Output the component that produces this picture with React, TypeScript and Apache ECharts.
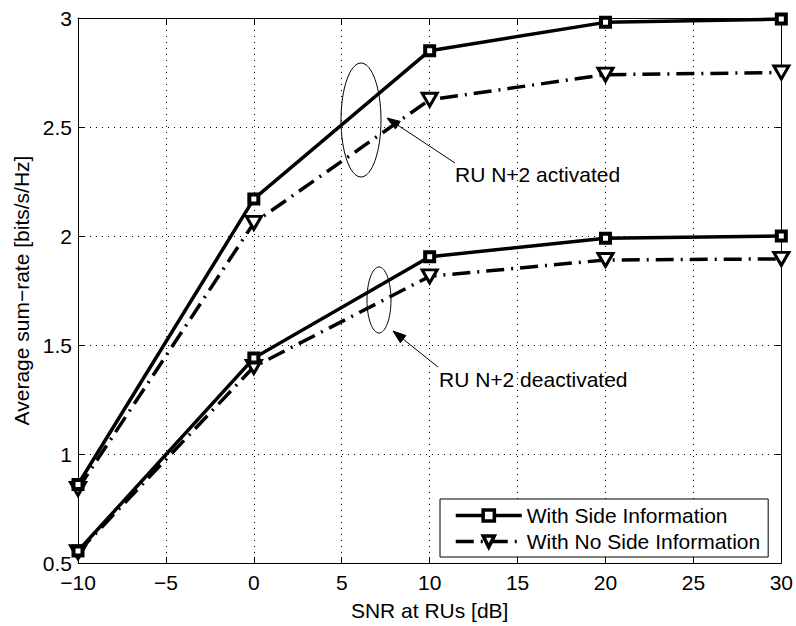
import React, { useEffect, useRef } from "react";
import * as echarts from "echarts";

const snr = [-10, 0, 10, 20, 30];
const activatedSide = [0.86, 2.17, 2.85, 2.98, 2.995];
const activatedNoSide = [0.84, 2.06, 2.625, 2.74, 2.75];
const deactivatedSide = [0.555, 1.44, 1.905, 1.99, 2.0];
const deactivatedNoSide = [0.55, 1.40, 1.815, 1.89, 1.895];
const legendNames = ["With Side Information", "With No Side Information"];
const xTitle = "SNR at RUs [dB]";
const yTitle = "Average sum\u2212rate [bits/s/Hz]";
const noteActivated = "RU N+2 activated";
const noteDeactivated = "RU N+2 deactivated";

const FONT = "'Liberation Sans', Arial, Helvetica, sans-serif";
const FS = 21;

function arrow(tail: number[], tip: number[]) {
  const dx = tip[0] - tail[0];
  const dy = tip[1] - tail[1];
  const len = Math.sqrt(dx * dx + dy * dy);
  const ux = dx / len;
  const uy = dy / len;
  const hl = 13;
  const hw = 4.5;
  const bx = tip[0] - ux * hl;
  const by = tip[1] - uy * hl;
  const px = -uy * hw;
  const py = ux * hw;
  return [
    {
      type: "line",
      shape: { x1: tail[0], y1: tail[1], x2: bx, y2: by },
      style: { stroke: "#000", lineWidth: 1 },
      silent: true,
    },
    {
      type: "polygon",
      shape: { points: [tip, [bx + px, by + py], [bx - px, by - py]] },
      style: { fill: "#000", stroke: "#000", lineWidth: 1 },
      silent: true,
    },
  ];
}

export default function App() {
  const ref = useRef<HTMLDivElement>(null);
  useEffect(() => {
    if (!ref.current) return;
    const chart = echarts.init(ref.current, null, { renderer: "svg" });
    const mk = (vals: number[]) => snr.map((x, i) => [x, vals[i]]);
    const sideStyle = {
      type: "line",
      name: legendNames[0],
      symbol: "rect",
      symbolSize: 9,
      itemStyle: { color: "#fff", borderColor: "#000", borderWidth: 4 },
      lineStyle: { color: "#000", width: 3.5, type: "solid" },
      z: 3,
    };
    const noSideStyle = {
      type: "line",
      name: legendNames[1],
      symbol: "triangle",
      symbolRotate: 180,
      symbolSize: [15, 13],
      itemStyle: { color: "#fff", borderColor: "#000", borderWidth: 3 },
      lineStyle: { color: "#000", width: 3.5, type: [18, 7, 2, 7] },
      z: 2,
    };
    const axisCommon = {
      axisLine: { show: true, onZero: false, lineStyle: { color: "#000", width: 1 } },
      axisTick: { show: true, inside: true, length: 6, lineStyle: { color: "#000" } },
    };
    chart.setOption({
      animation: false,
      backgroundColor: "#fff",
      textStyle: { fontFamily: FONT },
      grid: { left: 78, right: 14, top: 18, bottom: 55, containLabel: false },
      xAxis: [
        {
          type: "value",
          min: -10,
          max: 30,
          interval: 5,
          position: "bottom",
          ...axisCommon,
          axisLabel: {
            color: "#000",
            fontSize: FS,
            fontFamily: FONT,
            margin: 9,
            formatter: (v: number) => (v < 0 ? "\u2212" + Math.abs(v) : String(v)),
          },
          splitLine: { show: true, lineStyle: { color: "#000", width: 1, type: [1, 5] } },
          name: xTitle,
          nameLocation: "middle",
          nameGap: 37,
          nameTextStyle: { color: "#000", fontSize: FS, fontFamily: FONT },
        },
        {
          type: "value",
          min: -10,
          max: 30,
          interval: 5,
          position: "top",
          ...axisCommon,
          axisLabel: { show: false },
          splitLine: { show: false },
        },
      ],
      yAxis: [
        {
          type: "value",
          min: 0.5,
          max: 3,
          interval: 0.5,
          position: "left",
          ...axisCommon,
          axisLabel: { color: "#000", fontSize: FS, fontFamily: FONT, margin: 6 },
          splitLine: { show: true, lineStyle: { color: "#000", width: 1, type: [1, 5] } },
          name: yTitle,
          nameLocation: "middle",
          nameGap: 46,
          nameTextStyle: { color: "#000", fontSize: FS, fontFamily: FONT },
        },
        {
          type: "value",
          min: 0.5,
          max: 3,
          interval: 0.5,
          position: "right",
          ...axisCommon,
          axisLabel: { show: false },
          splitLine: { show: false },
        },
      ],
      legend: {
        data: legendNames,
        orient: "vertical",
        left: 440,
        top: 499,
        backgroundColor: "#fff",
        borderColor: "#000",
        borderWidth: 1,
        borderRadius: 0,
        padding: [6, 8, 5, 14],
        itemWidth: 66,
        itemHeight: 14,
        itemGap: 5,
        lineStyle: { width: 3.5 },
        itemStyle: { borderWidth: 3.5 },
        textStyle: { color: "#000", fontSize: FS, fontFamily: FONT },
        selectedMode: false,
      },
      series: [
        { ...sideStyle, data: mk(activatedSide) },
        { ...noSideStyle, data: mk(activatedNoSide) },
        { ...sideStyle, data: mk(deactivatedSide) },
        { ...noSideStyle, data: mk(deactivatedNoSide) },
      ],
      graphic: [
        {
          type: "ellipse",
          shape: { cx: 361, cy: 120, rx: 20, ry: 57 },
          style: { fill: "none", stroke: "#000", lineWidth: 1 },
          silent: true,
          z: 10,
        },
        {
          type: "ellipse",
          shape: { cx: 379, cy: 300, rx: 12, ry: 33 },
          style: { fill: "none", stroke: "#000", lineWidth: 1 },
          silent: true,
          z: 10,
        },
        ...arrow([455, 163], [387, 118]),
        ...arrow([438, 367], [393, 331]),
        {
          type: "text",
          left: 455,
          top: 164,
          style: { text: noteActivated, fill: "#000", fontSize: FS, fontFamily: FONT },
          silent: true,
        },
        {
          type: "text",
          left: 439,
          top: 369,
          style: { text: noteDeactivated, fill: "#000", fontSize: FS, fontFamily: FONT },
          silent: true,
        },
      ],
    });
    return () => chart.dispose();
  }, []);
  return (
    <div
      ref={ref}
      style={{ position: "fixed", left: 0, top: 0, width: 796, height: 626, background: "#fff" }}
    />
  );
}
